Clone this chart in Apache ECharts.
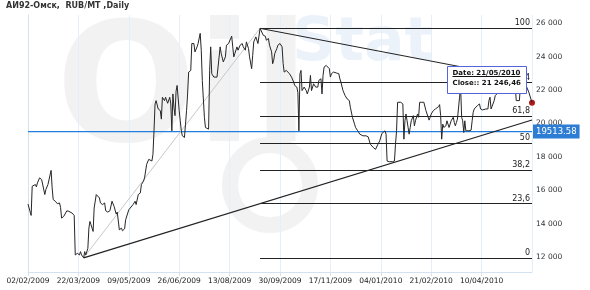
<!DOCTYPE html>
<html><head><meta charset="utf-8">
<script src="https://cdn.jsdelivr.net/npm/echarts@6/dist/echarts.min.js"></script>
<style>html,body{margin:0;padding:0;background:#fff}#c{width:590px;height:290px}</style>
</head><body><div id="c"></div>
<script>
// ---- data ----
const titleText = 'АИ92-Омск,  RUB/MT ,Daily';
const startDateUTC = Date.UTC(2009, 1, 2);      // day 0 = 02/02/2009
const xTickDays = 48;                            // label every 48 days
const xMaxDay = 480;
const yMin = 11100, yMax = 26500, yLabelStep = 2000;
const days = [0,3,4,7,8,9,11,13,14,16,17,19,20,22,23,24,26,28,30,31,32,34,35,37,39,42,44,45,47,49,50,51,53,54,55,57,58,59,60,62,63,65,68,69,71,73,74,76,78,80,81,82,84,85,87,89,90,92,93,96,97,100,102,103,105,107,108,110,111,113,115,116,118,119,120,121,122,124,126,127,128,130,131,133,135,136,137,138,139,140,141,142,144,145,146,147,149,150,151,152,153,155,156,158,159,161,162,164,165,166,168,169,170,172,173,174,175,177,178,180,181,183,184,186,188,189,191,192,194,195,196,197,199,200,202,204,205,207,208,210,211,213,214,215,217,218,219,221,
222,224,226,227,229,230,232,233,234,235,237,238,240,242,243,244,246,247,249,251,253,254,256,257,258,259,260,261,262,263,265,266,268,269,270,271,272,274,276,277,279,280,281,282,284,285,287,288,289,291,292,294,296,297,298,300,302,304,306,307,309,311,312,314,316,319,320,322,323,324,326,327,329,331,332,333,335,337,338,340,341,342,344,345,347,349,350,351,352,353,355,357,358,359,360,361,362,363,364,365,366,367,368,369,371,372,373,375,377,378,379,380,382,383,384,386,388,389,391,392,393,394,395,396,398,399,400,401,403,404,405,406,407,408,409,410,411,412,413,414,415,416,417,418,420,422,423,424,425,426,428,430,431,433,434,436,438,439,440,441,442,444,445,446,448,452,456,460,463,464,465,468,469,471,473,477,480];
const closes = [15170,14490,16240,16340,16200,16440,16740,16640,16540,15740,16040,16340,16340,17190,16140,15440,15340,15190,15240,14970,14330,14430,14430,14770,14730,14630,14490,12120,12220,12120,12320,12120,11950,12320,12120,12520,13730,14130,13930,13530,14930,15740,15540,15240,15140,15240,14770,14690,14770,15340,15340,15030,14570,14690,13630,13730,13570,13690,14230,14830,14830,15140,15340,15140,15740,15840,16340,16540,16740,17550,17850,17950,17750,18150,19560,21170,21370,20870,20770,20260,21570,21370,21570,21210,21570,21170,19560,21770,20970,20470,21930,22280,20770,20160,19560,19260,19160,19960,20770,21770,23080,23180,24790,24790,24290,24590,24790,25400,24390,22580,20370,19760,19660,19660,23180,24590,22980,22780,22880,22780,22880,24590,24190,23690,23990,24690,24790,24890,25230,24590,23990,24190,24590,24390,24690,24790,24590,24390,24890,24490,23990,23280,24090,24890,25190,25090,24790,25700,
25600,25290,25230,24990,25090,24690,24290,23580,23790,24190,24490,24690,24790,24590,23580,23080,23180,23080,22980,22780,22480,22280,22180,21870,19560,22980,23180,21970,21870,22180,21970,21770,22180,22880,21970,21870,22380,22180,22180,22580,22680,21770,22880,23380,23480,23380,23280,22780,22980,23080,22980,23020,22980,22680,22480,21970,21670,21470,21370,20970,20370,19960,19760,19560,19360,19260,19360,19260,19360,19200,18760,18650,18550,18450,18550,18720,18960,19400,19500,19560,19360,17750,17710,17750,17710,17750,18760,19560,21270,21270,21270,21170,19060,20160,20570,20160,19760,19360,19760,20160,20260,20470,19860,20160,20570,20370,21270,21270,21270,21330,20770,20670,20200,20370,20570,20770,20870,20870,21010,21130,20470,19060,19960,19760,19860,20160,19960,19760,20160,20260,20370,20060,19860,20060,20260,20370,21570,22200,20370,20160,19460,20160,19560,19600,19560,19600,20160,20670,20870,20770,21070,21170,20870,20810,20770,20870,20870,21370,21570,20870,20870,21370,21670,21770,21870,22200,22400,22600,22500,22300,21370,21370,22300,22700,22480,21870,21246.46];
const swingLow = [53, 11950];
const swingHigh = [221, 25700];
const supportEnd = [480, 20210];
const resistEnd = [470, 22700];
const fibLevels = [0, 23.6, 38.2, 50, 61.8, 76.4, 100];
const fibLabels = ['0', '23,6', '38,2', '50', '61,8', '76,4', '100'];
const priceLevel = 19513.58;
const lastDay = 480, lastClose = 21246.46;
const tipDate = 'Date: 21/05/2010';
const tipClose = 'Close:: 21 246,46';

// ---- helpers ----
const FONT = 'DejaVu Sans';
function pad(n){return (n<10?'0':'')+n;}
function dayLabel(d){
  const t = new Date(startDateUTC + Math.round(d)*86400000);
  return pad(t.getUTCDate())+'/'+pad(t.getUTCMonth()+1)+'/'+t.getUTCFullYear();
}
function priceLabel(v){
  const r = Math.round(v);
  if (r % yLabelStep !== 0) return '';
  return Math.floor(r/1000)+' 000';
}
const series = days.map((d,i)=>[d, closes[i]]);
const range = swingHigh[1]-swingLow[1];
const fibLines = fibLevels.map((lv,i)=>{
  const v = swingLow[1] + range*lv/100;
  return [{coord:[swingHigh[0], v], lineStyle:{color:'#222', width:1, type:'solid'},
           label:{show:true, formatter:fibLabels[i], position:'insideEndTop', distance:[2,1],
                  color:'#222', fontFamily:FONT, fontSize:8}},
          {coord:[xMaxDay, v]}];
});

const chart = echarts.init(document.getElementById('c'), null, {renderer:'canvas'});
const option = {
  animation:false,
  backgroundColor:'#fff',
  title:{text:titleText, left:6, top:2, padding:0,
         textStyle:{fontFamily:FONT, fontSize:8, fontWeight:'bold', color:'#333'}},
  grid:{left:28, right:58, top:15, bottom:18},
  xAxis:{type:'value', min:0, max:xMaxDay, interval:xTickDays,
    axisLine:{show:true, lineStyle:{color:'#d4e2f0'}},
    axisTick:{show:true, length:4, lineStyle:{color:'#d4e2f0'}},
    splitLine:{show:true, lineStyle:{color:'#e6eef8', width:1}},
    axisLabel:{formatter:dayLabel, showMaxLabel:false, margin:5, color:'#222', fontFamily:FONT, fontSize:7.5}},
  yAxis:{type:'value', position:'right', min:yMin, max:yMax, interval:100,
    axisLine:{show:true, lineStyle:{color:'#d4e2f0'}},
    axisTick:{show:false}, splitLine:{show:false},
    axisLabel:{formatter:priceLabel, margin:4, color:'#333', fontFamily:FONT, fontSize:7.5}},
  graphic:[
    {id:'wmO', type:'text', z:-10, left:56, top:16, silent:true,
     style:{text:'Oil', fontFamily:FONT, fontWeight:'bold', fontSize:165, fill:'#f2f2f2'}},
    {id:'wmS', type:'text', z:-10, left:292, top:14, silent:true,
     style:{text:'Stat', fontFamily:FONT, fontWeight:'bold', fontSize:60, fill:'#ebf2fa'}},
    {id:'wmR', type:'circle', z:-10, silent:true, shape:{cx:270, cy:185, r:40},
     style:{fill:'none', stroke:'#f2f2f2', lineWidth:16}}
  ],
  series:[{
    type:'line', data:series, symbol:'none', z:5,
    lineStyle:{color:'#262626', width:1},
    markLine:{silent:true, symbol:['none','none'], animation:false,
      lineStyle:{type:'solid'},
      data:[
        ...fibLines,
        [{coord:swingLow, lineStyle:{color:'#c8c8c8', width:1, type:'solid'}, label:{show:false}}, {coord:swingHigh}],
        [{coord:swingLow, lineStyle:{color:'#222', width:1.2, type:'solid'}, label:{show:false}}, {coord:supportEnd}],
        [{coord:swingHigh, lineStyle:{color:'#222', width:1, type:'solid'}, label:{show:false}}, {coord:resistEnd}]
      ]},
    markPoint:{silent:true, animation:false,
      data:[{coord:[lastDay, lastClose], symbol:'circle', symbolSize:6,
             itemStyle:{color:'#b01818'}, label:{show:false}}]}
  },{
    type:'line', data:[[0, priceLevel],[xMaxDay, priceLevel]], symbol:'none', z:4, silent:true,
    color:'#1f7ee0',
    lineStyle:{color:'#1f7ee0', width:1.4},
    endLabel:{show:true, distance:1, formatter:priceLevel.toFixed(2),
              backgroundColor:'#2c7dd3', color:'#fff', padding:[3,3,2,3],
              fontFamily:FONT, fontSize:8.5}
  }]
};
chart.setOption(option);

// tooltip box anchored to the last data point
const p = chart.convertToPixel({seriesIndex:0}, [lastDay, lastClose]);
const ctx = document.createElement('canvas').getContext('2d');
ctx.font = 'bold 7px "DejaVu Sans"';
const w1 = ctx.measureText(tipDate).width;
const boxW = 79, boxH = 27;
const bx = Math.round(p[0]) - 6 - boxW + 0.5, by = Math.round(p[1]) - 10 - boxH + 0.5;
chart.setOption({graphic:[
  {id:'tipBox', type:'rect', z:100, silent:true, shape:{x:bx, y:by, width:boxW, height:boxH},
   style:{fill:'#fff', stroke:'#5563dd', lineWidth:1}},
  {id:'tipT1', type:'text', z:101, silent:true, x:bx+5, y:by+7,
   style:{text:tipDate, fontFamily:FONT, fontWeight:'bold', fontSize:7, fill:'#111', verticalAlign:'middle'}},
  {id:'tipU', type:'line', z:101, silent:true, shape:{x1:bx+5, y1:by+10, x2:bx+5+w1, y2:by+10},
   style:{stroke:'#111', lineWidth:1}},
  {id:'tipT2', type:'text', z:101, silent:true, x:bx+5, y:by+16.5,
   style:{text:tipClose, fontFamily:FONT, fontWeight:'bold', fontSize:7, fill:'#111', verticalAlign:'middle'}}
]});
</script>
</body></html>
